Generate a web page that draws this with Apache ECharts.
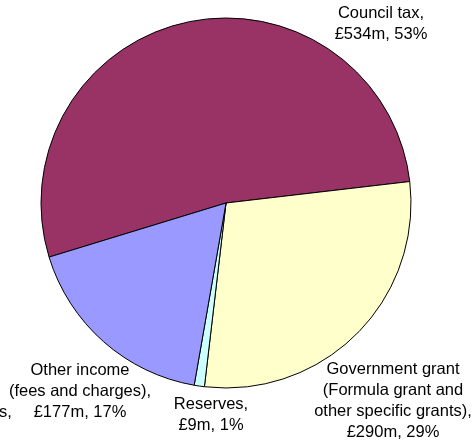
<!DOCTYPE html>
<html>
<head>
<meta charset="utf-8">
<style>
  html, body { margin: 0; padding: 0; background: #ffffff; }
  #chart { width: 472px; height: 447px; }
</style>
<script src="https://cdn.jsdelivr.net/npm/echarts@6/dist/echarts.min.js"></script>
</head>
<body>
<div id="chart"></div>
<script>
// Income sources, £m
const categories = [
  'Council tax,',
  'Government grant\n(Formula grant and\nother specific grants),',
  'Reserves,',
  'Other income\n(fees and charges),'
];
const valuesM = [534, 290, 9, 177];
const percentLabels = ['53%', '29%', '1%', '17%'];
const sliceColors = ['#993366', '#FFFFCC', '#CCFFFF', '#9999FF'];

// Where each label block is centred
const labelSpots = [
  [381, 24],
  [393, 401],
  [211, 415],
  [80, 391]
];

const chart = echarts.init(document.getElementById('chart'), null, { renderer: 'canvas' });

chart.setOption({
  backgroundColor: '#ffffff',
  animation: false,
  textStyle: { fontFamily: '"Liberation Sans", Arial, sans-serif' },
  series: [{
    type: 'pie',
    center: [226, 203],
    radius: [0, 185],
    startAngle: 197,
    clockwise: true,
    avoidLabelOverlap: false,
    itemStyle: { borderColor: '#000000', borderWidth: 1 },
    emphasis: { disabled: true },
    label: {
      show: true,
      position: 'outside',
      color: '#000000',
      fontSize: 16.5,
      lineHeight: 21,
      align: 'center',
      fontFamily: '"Liberation Sans", Arial, sans-serif',
      formatter: function (p) {
        return categories[p.dataIndex] + '\n£' + valuesM[p.dataIndex] + 'm, ' + percentLabels[p.dataIndex];
      }
    },
    labelLine: { show: false },
    labelLayout: function (params) {
      const s = labelSpots[params.dataIndex];
      return { x: s[0], y: s[1], align: 'center', verticalAlign: 'middle' };
    },
    data: categories.map(function (name, i) {
      return { name: name, value: valuesM[i], itemStyle: { color: sliceColors[i] } };
    })
  }],
  graphic: [{
    type: 'text',
    left: -1,
    top: 404,
    style: {
      text: 's,',
      fill: '#000000',
      font: '16.5px "Liberation Sans", Arial, sans-serif'
    }
  }]
});
</script>
</body>
</html>
